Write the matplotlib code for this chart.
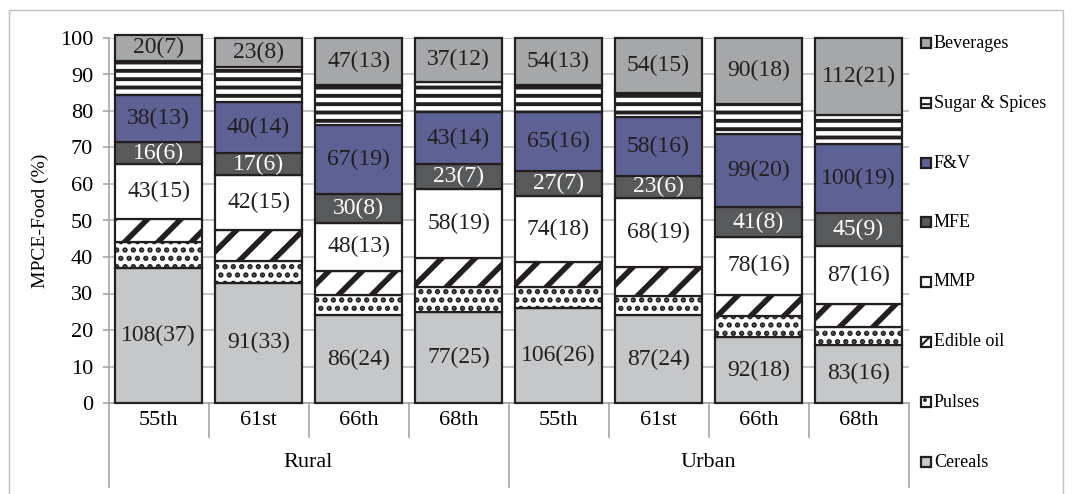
import numpy as np
import matplotlib
matplotlib.use("Agg")
import matplotlib.pyplot as plt
from matplotlib.patches import Rectangle
from matplotlib.lines import Line2D

plt.rcParams['font.family'] = ['Liberation Serif', 'DejaVu Serif']

# NSS rounds, grouped by sector
rounds = ["55th", "61st", "66th", "68th", "55th", "61st", "66th", "68th"]
sectors = ["Rural", "Urban"]

# Share of food MPCE (%) by item group
cereals_pct = [37, 33, 24, 25, 26, 24, 18, 16]
pulses_pct = [7, 6, 5.7, 6.8, 5.8, 5.3, 5.7, 4.7]
oil_pct = [6.5, 8.4, 6.6, 7.8, 6.8, 8.0, 5.9, 6.3]
mmp_pct = [15, 15, 13, 19, 18, 19, 16, 16]
mfe_pct = [6, 6, 8, 7, 7, 6, 8, 9]
fv_pct = [13, 14, 19, 14, 16, 16, 20, 19]
sugar_pct = [9.3, 9.6, 10.7, 8.4, 7.4, 6.7, 8.4, 8.0]
bev_pct = [7, 8, 13, 12, 13, 15, 18, 21]

# MPCE on the item group (Rs)
cereals_rs = [108, 91, 86, 77, 106, 87, 92, 83]
mmp_rs = [43, 42, 48, 58, 74, 68, 78, 87]
mfe_rs = [16, 17, 30, 23, 27, 23, 41, 45]
fv_rs = [38, 40, 67, 43, 65, 58, 99, 100]
bev_rs = [20, 23, 47, 37, 54, 54, 90, 112]

W, H = 1072, 494
fig = plt.figure(figsize=(W / 100, H / 100), dpi=100)
ax = fig.add_axes([108.5 / W, (H - 403) / H, 800 / W, 365 / H])

EDGE = '#231f20'
series = [
    # name, values, rs-labels, face, hatch, hatch lw, text colour
    ("Cereals", cereals_pct, cereals_rs, '#c6c7c9', None, 1.0, EDGE),
    ("Pulses", pulses_pct, None, 'white', '..', 2.6, EDGE),
    ("Edible oil", oil_pct, None, 'white', '/', 4.0, EDGE),
    ("MMP", mmp_pct, mmp_rs, 'white', None, 1.0, EDGE),
    ("MFE", mfe_pct, mfe_rs, '#58595b', None, 1.0, 'white'),
    ("F&V", fv_pct, fv_rs, '#5e6194', None, 1.0, EDGE),
    ("Sugar & Spices", sugar_pct, None, 'white', '--', 2.8, EDGE),
    ("Beverages", bev_pct, bev_rs, '#a6a7a9', None, 1.0, EDGE),
]

x = np.arange(len(rounds))
bottom = np.zeros(len(rounds))
for name, vals, rs, face, hatch, hlw, tcol in series:
    vals = np.asarray(vals, dtype=float)
    with plt.rc_context({'hatch.linewidth': hlw, 'hatch.color': EDGE}):
        bars = ax.bar(x, vals, 0.87, bottom=bottom, color=face,
                      edgecolor=EDGE, linewidth=1.6, hatch=hatch, zorder=3)
        for b in bars:
            b.set_clip_on(False)
            if hasattr(b, 'set_hatch_linewidth'):
                b.set_hatch_linewidth(hlw)
    if rs is not None:
        for xi, b0, v, r in zip(x, bottom, vals, rs):
            ax.text(xi, b0 + v / 2, f"{r}({int(v)})", ha='center',
                    va='center', fontsize=17, color=tcol, zorder=4)
    bottom += vals

ax.set_xlim(-0.5, 7.5)
ax.set_ylim(0, 100)
ax.set_yticks(np.arange(0, 101, 10))
ax.yaxis.grid(True, color='#bfbfbf', lw=1.3, zorder=0)
ax.set_axisbelow(True)
ax.tick_params(axis='y', direction='out', length=4, width=1.2,
               color='#a6a6a6', labelsize=16, pad=7)
ax.set_xticks([])
for s in ['top', 'right']:
    ax.spines[s].set_visible(False)
for s in ['left', 'bottom']:
    ax.spines[s].set_color('#a6a6a6')
    ax.spines[s].set_linewidth(1.2)
ax.set_ylabel("MPCE-Food (%)", fontsize=14, labelpad=8)

# two-level category axis
trans = ax.get_xaxis_transform()
ax_h = 365
for k in range(len(rounds) + 1):
    xb = k - 0.5
    depth = (487 - 403) / ax_h if k % 4 == 0 else (437 - 403) / ax_h
    ax.add_line(Line2D([xb, xb], [0, -depth], transform=trans,
                       color='#a6a6a6', lw=1.2, clip_on=False))
for xi, lab in zip(x, rounds):
    ax.text(xi, -(420 - 403) / ax_h, lab, transform=trans, ha='center',
            va='center', fontsize=16)
for gi, lab in enumerate(sectors):
    ax.text(gi * 4 + 1.5, -(462 - 403) / ax_h, lab, transform=trans,
            ha='center', va='center', fontsize=16)

# legend, top to bottom in reverse stacking order
leg_y = [43, 103, 163, 222, 282, 342, 402, 462]
for (name, vals, rs, face, hatch, hlw, tcol), yy in zip(series[::-1], leg_y):
    with plt.rc_context({'hatch.linewidth': min(hlw, 1.5)}):
        p = Rectangle((921 / W, 1 - (yy + 5) / H), 10 / W, 10 / H,
                      transform=fig.transFigure, facecolor=face,
                      edgecolor=EDGE, linewidth=1.6, hatch=hatch)
        if hasattr(p, 'set_hatch_linewidth'):
            p.set_hatch_linewidth(min(hlw, 1.5))
    fig.add_artist(p)
    fig.text(934 / W, 1 - yy / H, name, ha='left', va='center', fontsize=13)

# outer frame
frame = Rectangle((8.5 / W, -0.01), (1063 - 8.5) / W, 1.01 - 10.5 / H,
                  transform=fig.transFigure, fill=False,
                  edgecolor='#bfbfbf', linewidth=1)
fig.add_artist(frame)

fig.savefig("out.png", dpi=100)
